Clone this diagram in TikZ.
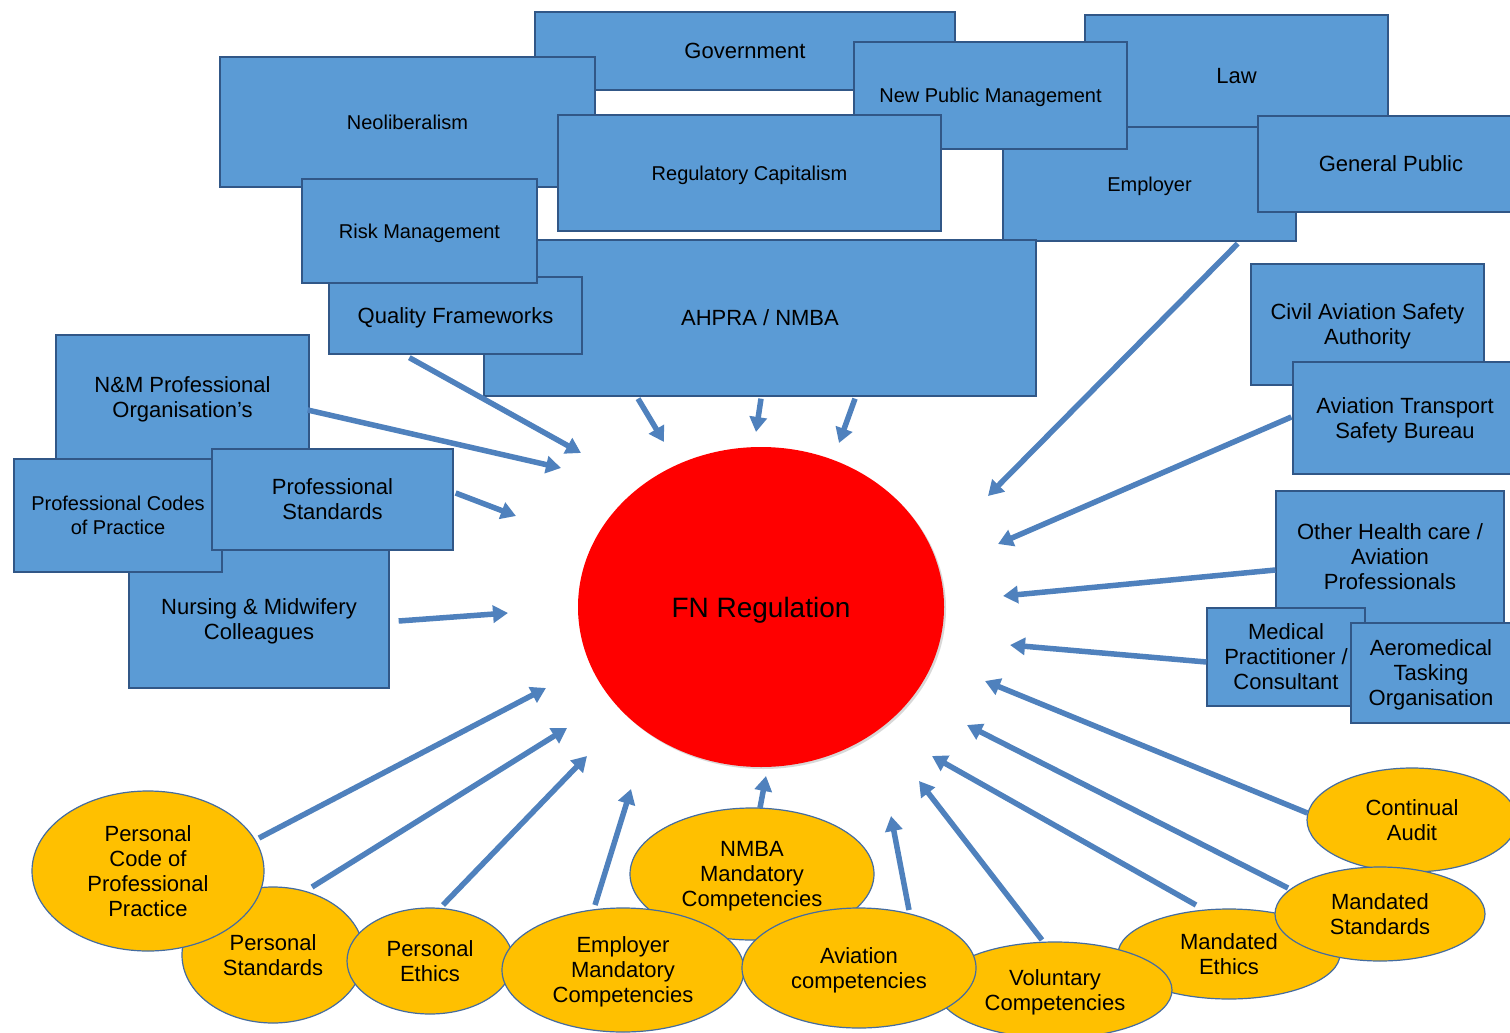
\documentclass[tikz,border=0pt]{standalone}
\usepackage{fontspec}
\setmainfont{Liberation Sans}
\usetikzlibrary{shapes.geometric,arrows.meta,calc,shadows}

\definecolor{boxfill}{RGB}{91,155,213}
\definecolor{boxline}{RGB}{49,87,135}
\definecolor{ovalfill}{RGB}{255,192,0}
\definecolor{ovalline}{RGB}{68,108,160}
\definecolor{arrowblue}{RGB}{79,129,189}
\definecolor{hubred}{RGB}{255,0,0}

\begin{document}
\begin{tikzpicture}[x=1pt,y=-1pt,
  box/.style={rectangle, draw=boxline, fill=boxfill, line width=1.3pt,
    inner sep=0pt, align=center, text depth=0pt,
    font=\fontsize{22}{25}\selectfont},
  smalltext/.style={font=\fontsize{20}{24}\selectfont},
  oval/.style={ellipse, draw=ovalline, fill=ovalfill, line width=1.2pt,
    inner sep=0pt, align=center, text depth=0pt,
    font=\fontsize{22}{25}\selectfont},
  feed/.style={draw=arrowblue, line width=5.5pt,
    -{Triangle[length=15pt,width=17pt]}},
]
\fill[white] (0,0) rectangle (1510,1033);
\useasboundingbox (0,0) rectangle (1510,1033);

% ---- regulators and context (top) ----
\node[box, minimum width=420pt, minimum height=78pt] (gov) at (745,51) {Government};
\node[box, smalltext, minimum width=375pt, minimum height=130pt] (neo) at (407.5,122) {Neoliberalism};
\node[box, minimum width=303pt, minimum height=112pt, text height=26pt] (law) at (1236.5,71) {Law};
\node[box, smalltext, minimum width=293pt, minimum height=114pt] (emp) at (1149.5,184) {Employer};
\node[box, smalltext, minimum width=273pt, minimum height=107pt] (npm) at (990.5,95.5) {New Public Management};
\node[box, smalltext, minimum width=383pt, minimum height=116pt] (regcap) at (749.5,173) {Regulatory Capitalism};
\node[box, minimum width=266pt, minimum height=96pt] (genpub) at (1391,164) {General Public};
\node[box, minimum width=552pt, minimum height=156pt] (ahpra) at (760,318) {AHPRA / NMBA};
\node[box, minimum width=253pt, minimum height=77pt] (qf) at (455.5,315.5) {Quality Frameworks};
\node[box, smalltext, minimum width=235pt, minimum height=104pt] (risk) at (419.5,231) {Risk Management};

% ---- professional bodies (left) ----
\node[box, minimum width=253pt, minimum height=125pt] (nmorg) at (182.5,397.5) {N\&M Professional\\Organisation's};
\node[box, minimum width=260pt, minimum height=138pt] (nurs) at (259,619) {Nursing \& Midwifery\\Colleagues};
\node[box, smalltext, minimum width=208pt, minimum height=113pt] (codes) at (118,515.5) {Professional Codes\\of Practice};
\node[box, minimum width=241pt, minimum height=101pt] (pstd) at (332.5,499.5) {Professional\\Standards};

% ---- aviation and health bodies (right) ----
\node[box, minimum width=233pt, minimum height=121pt] (casa) at (1367.5,324.5) {Civil Aviation Safety\\Authority};
\node[box, minimum width=224pt, minimum height=112pt] (atsb) at (1405,418) {Aviation Transport\\Safety Bureau};
\node[box, minimum width=228pt, minimum height=132pt] (ohc) at (1390,557) {Other Health care /\\Aviation\\Professionals};
\node[box, minimum width=158pt, minimum height=98pt] (med) at (1286,657) {Medical\\Practitioner /\\Consultant};
\node[box, minimum width=160pt, minimum height=100pt] (aero) at (1431,673) {Aeromedical\\Tasking\\Organisation};

% ---- central hub ----
\node[ellipse, fill=hubred, inner sep=0pt, minimum width=366pt, minimum height=320pt,
  drop shadow={shadow xshift=2pt, shadow yshift=-2pt, opacity=0.3},
  text depth=0pt, font=\fontsize{28}{32}\selectfont] (hub) at (761,607) {FN Regulation};

% ---- competencies and standards (bottom) ----
\node[oval, minimum width=182pt, minimum height=136pt] (pstds) at (273,955) {Personal\\Standards};
\node[oval, minimum width=232pt, minimum height=160pt] (pcode) at (148,871) {Personal\\Code of\\Professional\\Practice};
\node[oval, minimum width=166pt, minimum height=106pt] (peth) at (430,961) {Personal\\Ethics};
\node[oval, minimum width=244pt, minimum height=132pt] (nmba) at (752,874) {NMBA\\Mandatory\\Competencies};
\node[oval, minimum width=242pt, minimum height=124pt] (empc) at (623,970) {Employer\\Mandatory\\Competencies};
\node[oval, minimum width=222pt, minimum height=90pt] (meth) at (1229,954) {Mandated\\Ethics};
\node[oval, minimum width=234pt, minimum height=96pt] (vol) at (1055,990) {Voluntary\\Competencies};
\node[oval, minimum width=234pt, minimum height=120pt] (avc) at (859,968) {Aviation\\competencies};
\node[oval, minimum width=210pt, minimum height=104pt] (caud) at (1412,820) {Continual\\Audit};
\node[oval, minimum width=210pt, minimum height=94pt] (mstd) at (1380,914) {Mandated\\Standards};

% ---- arrow tips around the hub ----
\coordinate (t1) at (581,453);
\coordinate (t2) at (561,468);
\coordinate (t3) at (516,516);
\coordinate (t4) at (508,613);
\coordinate (t5) at (664,442);
\coordinate (t6) at (756,432);
\coordinate (t7) at (839,443);
\coordinate (t8) at (988,496);
\coordinate (t9) at (998,544);
\coordinate (t10) at (1003,596);
\coordinate (t11) at (1010,645);
\coordinate (t12) at (985,681);
\coordinate (t13) at (546,688);
\coordinate (t14) at (567,728);
\coordinate (t15) at (587,756);
\coordinate (t16) at (631,789);
\coordinate (t17) at (766,776);
\coordinate (t18) at (891,816);
\coordinate (t19) at (919,781);
\coordinate (t20) at (932,756);
\coordinate (t21) at (967,725);

% ---- influences ----
\draw[feed] ($(qf.south west)+(81,3)$) -- (t1);
\draw[feed] ($(nmorg.east)+(-2,12.5)$) -- (t2);
\draw[feed] ($(pstd.east)+(2,-6.5)$) -- (t3);
\draw[feed] ($(nurs.east)+(9,2)$) -- (t4);
\draw[feed] ($(ahpra.south)+(-122,2)$) -- (t5);
\draw[feed] ($(ahpra.south)+(1,2)$) -- (t6);
\draw[feed] ($(ahpra.south)+(95,2)$) -- (t7);
\draw[feed] ($(emp.south east)+(-59,2)$) -- (t8);
\draw[feed] ($(atsb.west)+(-1,-1)$) -- (t9);
\draw[feed] ($(ohc.west)+(0,13)$) -- (t10);
\draw[feed] ($(med.west)+(0,5)$) -- (t11);
\draw[feed] ($(caud.west)+(1,-7)$) -- (t12);
\draw[feed] ($(pcode.center)+(111,-33)$) -- (t13);
\draw[feed] ($(pstds.center)+(39,-68)$) -- (t14);
\draw[feed] ($(peth.center)+(13,-56)$) -- (t15);
\draw[feed] ($(empc.center)+(-28,-65)$) -- (t16);
\draw[feed] ($(nmba.center)+(8,-66)$) -- (t17);
\draw[feed] ($(avc.center)+(50,-58)$) -- (t18);
\draw[feed] ($(vol.center)+(-13,-50)$) -- (t19);
\draw[feed] ($(meth.center)+(-33,-49)$) -- (t20);
\draw[feed] ($(mstd.center)+(-92,-26)$) -- (t21);
\end{tikzpicture}
\end{document}
